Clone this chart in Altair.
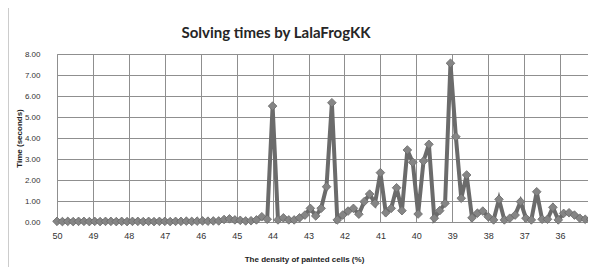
import altair as alt
import pandas as pd

density = [50.00, 49.85, 49.70, 49.55, 49.40, 49.25, 49.10, 48.95, 48.80, 48.65,
           48.50, 48.35, 48.20, 48.05, 47.90, 47.75, 47.60, 47.45, 47.30, 47.15,
           47.00, 46.85, 46.70, 46.55, 46.40, 46.25, 46.10, 45.95, 45.80, 45.65,
           45.50, 45.35, 45.20, 45.05, 44.90, 44.75, 44.60, 44.45, 44.30, 44.15,
           44.00, 43.85, 43.70, 43.55, 43.40, 43.25, 43.10, 42.95, 42.80, 42.65,
           42.50, 42.35, 42.20, 42.05, 41.90, 41.75, 41.60, 41.45, 41.30, 41.15,
           41.00, 40.85, 40.70, 40.55, 40.40, 40.25, 40.10, 39.95, 39.80, 39.65,
           39.50, 39.35, 39.20, 39.05, 38.90, 38.75, 38.60, 38.45, 38.30, 38.15,
           38.00, 37.85, 37.70, 37.55, 37.40, 37.25, 37.10, 36.95, 36.80, 36.65,
           36.50, 36.35, 36.20, 36.05, 35.90, 35.75, 35.60, 35.45, 35.30, 35.15,
           35.00]

seconds = [0.03, 0.02, 0.03, 0.02, 0.03, 0.03, 0.02, 0.03, 0.02, 0.03,
           0.03, 0.02, 0.03, 0.02, 0.03, 0.03, 0.02, 0.03, 0.02, 0.03,
           0.03, 0.02, 0.03, 0.03, 0.04, 0.03, 0.04, 0.05, 0.04, 0.05,
           0.05, 0.12, 0.15, 0.10, 0.08, 0.05, 0.06, 0.10, 0.25, 0.13,
           5.52, 0.10, 0.20, 0.10, 0.10, 0.20, 0.33, 0.65, 0.29, 0.65,
           1.68, 5.68, 0.10, 0.33, 0.52, 0.65, 0.37, 0.97, 1.33, 0.89,
           2.35, 0.44, 0.65, 1.63, 0.54, 3.43, 2.84, 0.38, 2.90, 3.70,
           0.18, 0.54, 0.89, 7.56, 4.06, 1.13, 2.24, 0.20, 0.42, 0.52,
           0.25, 0.10, 1.08, 0.10, 0.18, 0.33, 0.97, 0.18, 0.10, 1.44,
           0.13, 0.13, 0.70, 0.10, 0.41, 0.44, 0.33, 0.18, 0.13, 0.13,
           1.05]

x_ticks = [50, 49, 48, 47, 46, 45, 44, 43, 42, 41, 40, 39, 38, 37, 36, 35]
y_ticks = [0, 1, 2, 3, 4, 5, 6, 7, 8]
chart_title = ["Solving times by LalaFrogKK"]

df = pd.DataFrame({"density": density, "seconds": seconds})
df_title = pd.DataFrame({"t": chart_title})

W, H = 539, 168

x_enc = alt.X(
    "density:Q",
    scale=alt.Scale(domain=[35, 50], reverse=True, nice=False, zero=False),
    axis=alt.Axis(
        values=x_ticks, format="d", title="The density of painted cells (%)",
        ticks=False, labelPadding=9, labelFont="Liberation Sans", labelFontSize=9,
        labelColor="#333333", labelFlush=False, labelOverlap=False,
        titleFont="Liberation Sans", titleFontSize=8, titleFontWeight="bold",
        titleColor="#222222", titleX=247, titleY=37, titleBaseline="middle",
        titleAlign="center",
        grid=True, gridColor="#8f8f8f", gridWidth=1,
        domain=True, domainColor="#8f8f8f",
    ),
)
y_enc = alt.Y(
    "seconds:Q",
    scale=alt.Scale(domain=[0, 8], nice=False),
    axis=alt.Axis(
        values=y_ticks, format=".2f", title="Time (seconds)",
        ticks=False, labelPadding=17, labelFont="Liberation Sans", labelFontSize=8,
        labelColor="#333333",
        titleFont="Liberation Sans", titleFontSize=8, titleFontWeight="bold",
        titleColor="#222222", titleX=-38, titleY=84, titleAngle=270,
        titleBaseline="middle", titleAlign="center",
        grid=True, gridColor="#8f8f8f", gridWidth=1,
        domain=True, domainColor="#8f8f8f",
    ),
)

line = alt.Chart(df).mark_line(color="#6b6b6b", strokeWidth=4).encode(x=x_enc, y=y_enc)
pts = alt.Chart(df).mark_point(
    shape="diamond", filled=True, size=75, color="#858585", opacity=1,
    stroke="#6a6a6a", strokeWidth=0.8,
).encode(x=x_enc, y=y_enc)

border = alt.Chart(df_title).mark_rule(color="#9a9a9a", strokeWidth=1, clip=False).encode(
    x=alt.value(-49), y=alt.value(-46), y2=alt.value(H + 45)
)

title_mark = alt.Chart(df_title).mark_text(
    font="Lato", fontSize=15, fontWeight="bold", color="#262626",
    align="center", baseline="alphabetic", clip=False,
).encode(x=alt.value(219), y=alt.value(-16), text="t:N")

chart = alt.layer(border, line, pts, title_mark).properties(
    width=W, height=H,
    autosize=alt.AutoSizeParams(type="none"),
    padding={"left": 49, "top": 46, "right": -8, "bottom": 45},
).configure_view(stroke="#8f8f8f", strokeWidth=1).configure(background="white")

chart.save("out.html", embed_options={"renderer": "svg", "actions": False})
